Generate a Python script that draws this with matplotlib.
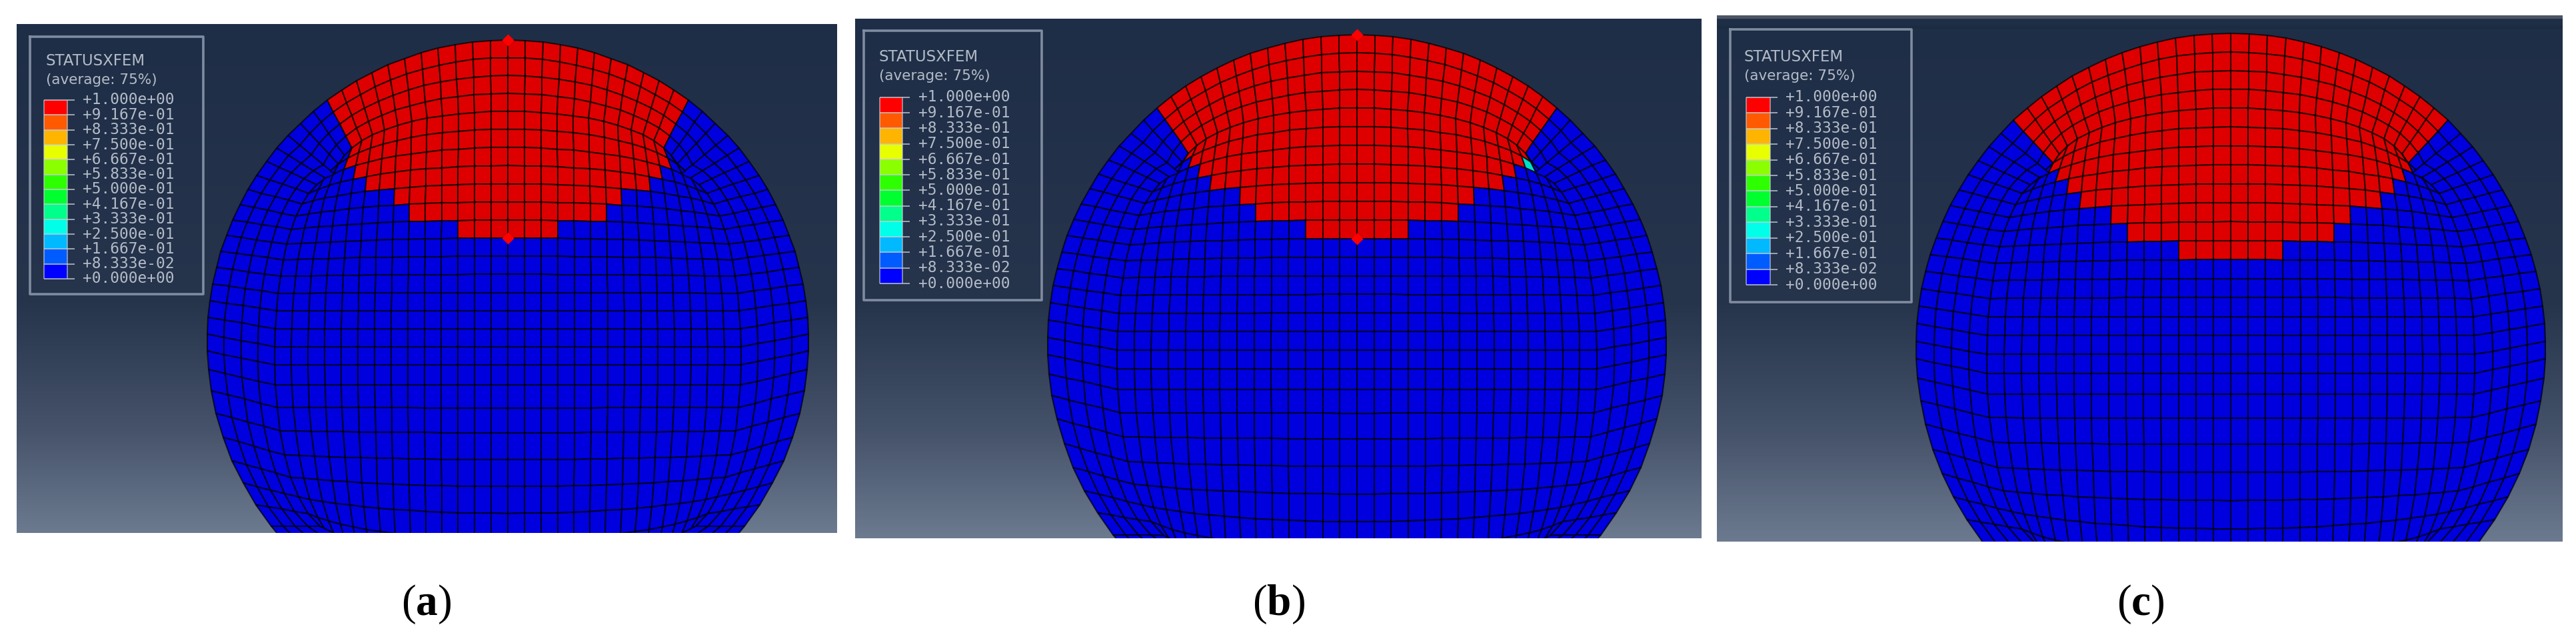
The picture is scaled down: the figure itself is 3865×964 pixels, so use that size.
import numpy as np
import matplotlib
matplotlib.use("Agg")
import matplotlib.pyplot as plt
from matplotlib.colors import ListedColormap, BoundaryNorm, LinearSegmentedColormap, to_rgb

plt.rcParams['mathtext.fontset'] = 'custom'
plt.rcParams['mathtext.rm'] = 'Liberation Serif'
plt.rcParams['mathtext.bf'] = 'Liberation Serif:bold'

W = 3866
H = 964

# legend of the STATUSXFEM contour, top to bottom
legend_title = "STATUSXFEM"
legend_sub = "(average: 75%)"
level_labels = ["+1.000e+00", "+9.167e-01", "+8.333e-01", "+7.500e-01", "+6.667e-01",
                "+5.833e-01", "+5.000e-01", "+4.167e-01", "+3.333e-01", "+2.500e-01",
                "+1.667e-01", "+8.333e-02", "+0.000e+00"]
level_values = [1.0, 0.9167, 0.8333, 0.75, 0.6667, 0.5833, 0.5, 0.4167, 0.3333, 0.25, 0.1667, 0.0833, 0.0]
band_colors = ["#ff0000", "#ff5a00", "#ffb400", "#e8ff00", "#8bff00", "#2eff00",
               "#00ff2e", "#00ff8b", "#00ffe8", "#00b9ff", "#005cff", "#0000ff"]

# red (cracked) cells per mesh row, counted from the top of the sphere
red_widths_a = [22, 22, 22, 22, 22, 22, 20, 18, 14, 12, 6]
red_widths_b = [24, 24, 24, 24, 24, 22, 20, 18, 14, 12, 6]
red_widths_c = [26, 26, 26, 26, 26, 24, 22, 20, 18, 14, 12, 6]
captions = ["a", "b", "c"]

# mesh rows below the top ring, they get coarser in the lower half
row_heights = [27] * 14 + [30, 34, 37, 40, 40, 40, 40, 42, 42]
n_cols = 28
n_ring = 4

# layout in image pixels
PANELS = [
    dict(box=(25, 36, 1256, 799), circle=(762, 511, 451), legend=(45, 55, 305, 441),
         bar=(66, 101, 150, 418), label_x=124, title_x=69, title_y=(92, 120), cap_x=640, tips=True),
    dict(box=(1283, 28, 2552, 807), circle=(2036, 516, 464), legend=(1296, 46, 1563, 450),
         bar=(1320, 1354, 146, 425), label_x=1378, title_x=1319, title_y=(85, 114), cap_x=1918, tips=True),
    dict(box=(2576, 23, 3845, 812), circle=(3347, 522, 472), legend=(2596, 44, 2868, 453),
         bar=(2620, 2656, 146, 427), label_x=2679, title_x=2617, title_y=(85, 114), cap_x=3212, tips=False),
]

bg_cmap = LinearSegmentedColormap.from_list("bg", [(0, "#1f2e47"), (0.55, "#26344c"), (0.8, "#46536a"), (1, "#6c7a90")])
mesh_cmap = ListedColormap([tuple(0.87 * c for c in to_rgb(col)) for col in band_colors[::-1]])
mesh_norm = BoundaryNorm(np.linspace(0, 1, 13), 12)
legend_cmap = ListedColormap(band_colors[::-1])
text_col = "#b4bcc8"


def make_patches(cx, cy, R):
    # block mesh of the disc: inner block and four rings round it
    p = np.linspace(-1, 1, n_cols + 1)
    q = np.r_[0, np.cumsum(row_heights)] / float(sum(row_heights)) * 2 - 1
    a = 0.776 * R
    top = -0.763 * R
    bot = 0.85 * R
    ym = (top + bot) / 2
    b = (bot - top) / 2
    # block corners do not sit quite on the 45 degree line
    phi_top = np.radians(47)
    phi_side = np.radians(43)

    def inner(pp, qq):
        s = np.sqrt(1 - 0.45 * (pp * qq) ** 2)
        return a * pp * s, ym + b * qq * s

    P, Q = np.meshgrid(p, q)
    Xi, Yi = inner(P, Q)
    t = np.linspace(1, 0, n_ring + 1)[:, None]

    # top ring, outer edge first
    xi, yi = inner(p, -1.0)
    xo, yo = R * np.sin(p * phi_top), -R * np.cos(p * phi_top)
    Xt, Yt = t * xo + (1 - t) * xi, t * yo + (1 - t) * yi
    # bottom ring
    xi, yi = inner(p, 1.0)
    xo, yo = R * np.sin(p * phi_top), R * np.cos(p * phi_top)
    Xb, Yb = t * xo + (1 - t) * xi, t * yo + (1 - t) * yi
    # left and right rings
    xi, yi = inner(-1.0, q)
    xo, yo = -R * np.cos(q * phi_side), R * np.sin(q * phi_side)
    Xl, Yl = t * xo + (1 - t) * xi, t * yo + (1 - t) * yi
    Xr, Yr = -Xl, Yl
    off = lambda X, Y: (X + cx, Y + cy)
    return dict(top=off(Xt, Yt), inner=off(Xi, Yi), bottom=off(Xb, Yb), left=off(Xl, Yl), right=off(Xr, Yr))


def make_status(widths):
    status = np.zeros((n_ring + len(row_heights), n_cols))
    for r, w in enumerate(widths):
        lo = (n_cols - w) // 2
        status[r, lo:lo + w] = 1.0
    return status


def draw_panel(ax, pn, widths, caption, odd_cells=()):
    x0, y0, x1, y1 = pn['box']
    grad = np.linspace(0, 1, 256)[:, None]
    ax.imshow(grad, cmap=bg_cmap, aspect='auto', extent=(x0, x1, y1, y0), zorder=0)
    cx, cy, R = pn['circle']
    patches = make_patches(cx, cy, R)
    status = make_status(widths)
    for r, c, v in odd_cells:
        status[r, c] = v
    blocks = {'top': status[:n_ring], 'inner': status[n_ring:]}
    for name, (X, Y) in patches.items():
        vals = blocks.get(name)
        if vals is None:
            vals = np.zeros((X.shape[0] - 1, X.shape[1] - 1))
        ax.pcolormesh(X, Y, vals, cmap=mesh_cmap, norm=mesh_norm, edgecolors=(0, 0, 0, 0.72),
                      linewidth=1.5, zorder=2, antialiased=True)

    if pn['tips']:
        # crack tips sit on the middle line of the mesh
        Xt, Yt = patches['top']
        Xi, Yi = patches['inner']
        mid = n_cols // 2
        last = len(widths) - n_ring
        ax.plot([Xt[0, mid], Xi[last, mid]], [Yt[0, mid], Yi[last, mid]], ls='none', marker='D',
                ms=9.5, color='#ff0000', mec='none', zorder=3)

    # legend
    lx0, ly0, lx1, ly1 = pn['legend']
    ax.plot([lx0, lx1, lx1, lx0, lx0], [ly0, ly0, ly1, ly1, ly0], color='#7f8ca0', lw=2.6, zorder=4)
    ax.text(pn['title_x'], pn['title_y'][0], legend_title, color=text_col, fontsize=16.5, va='center', ha='left', zorder=5)
    ax.text(pn['title_x'], pn['title_y'][1], legend_sub, color=text_col, fontsize=15.5, va='center', ha='left', zorder=5)
    bx0, bx1, by0, by1 = pn['bar']
    edges = np.linspace(by0, by1, len(level_values))
    vals = np.array([[(level_values[i] + level_values[i + 1]) / 2] for i in range(len(band_colors))])
    ax.pcolormesh([bx0, bx1], edges, vals, cmap=legend_cmap, norm=mesh_norm, zorder=4)
    ax.hlines(edges, bx0, bx1 + 11, color='#c4ccd6', lw=1.4, alpha=0.75, zorder=5)
    ax.vlines([bx0, bx1], by0, by1, color='#c4ccd6', lw=1.4, alpha=0.6, zorder=5)
    for ypos, lab in zip(edges, level_labels):
        ax.text(pn['label_x'], ypos, lab, family='DejaVu Sans Mono', color=text_col, fontsize=16.4,
                va='center', ha='left', zorder=5)

    ax.set_xlim(x0, x1)
    ax.set_ylim(y1, y0)
    ax.axis('off')


fig = plt.figure(figsize=(W / 100, H / 100), dpi=100, facecolor='white')
all_widths = [red_widths_a, red_widths_b, red_widths_c]
# one half-open cell in (b), status about 0.33
odd = [(), ((5, 25, 0.3333),), ()]
for pn, widths, cap, extra in zip(PANELS, all_widths, captions, odd):
    x0, y0, x1, y1 = pn['box']
    ax = fig.add_axes([x0 / W, 1 - y1 / H, (x1 - x0) / W, (y1 - y0) / H])
    draw_panel(ax, pn, widths, cap, extra)
    if not pn['tips']:
        ax.axhspan(y0, y0 + 4, color='#4c5563', zorder=1)
        ax.axhline(y0 + 18, color='#1a2c3e', lw=3, zorder=1)
    fig.text(pn['cap_x'] / W, 1 - 906 / H, "(" + r"$\mathbf{" + cap + "}$" + ")", family='Liberation Serif',
             fontsize=47, ha='center', va='center', color='black')

fig.savefig("out.png", dpi=100, facecolor='white')
